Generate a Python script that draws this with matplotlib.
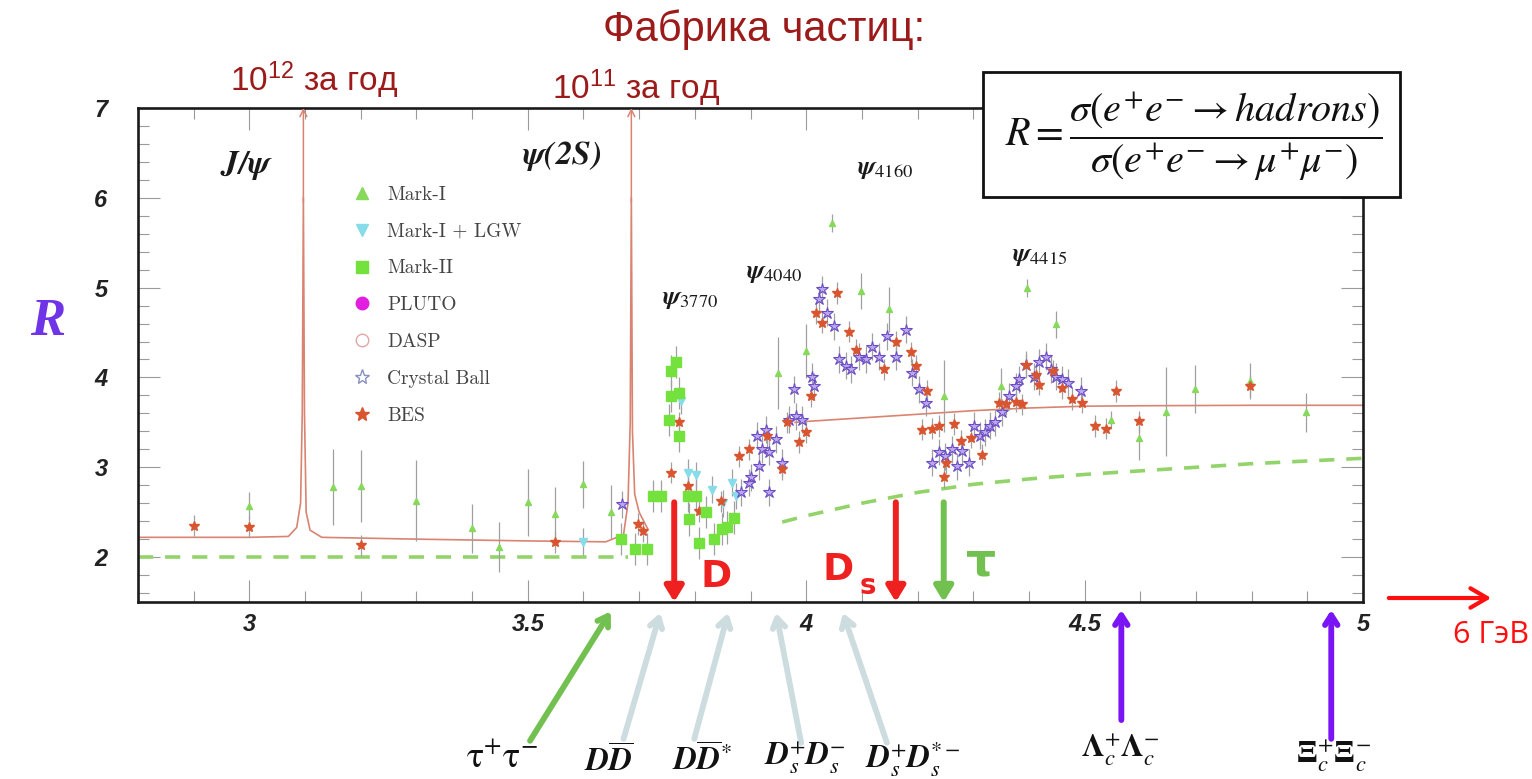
import matplotlib.pyplot as plt
from matplotlib.lines import Line2D
from matplotlib.patches import Rectangle, FancyArrowPatch
from matplotlib.ticker import MultipleLocator

plt.rcParams['mathtext.fontset'] = 'stix'

W, H = 1532, 779


def fig_xy(x, y):
    # pixel position -> figure fraction
    return x / W, 1 - y / H


# --- measurements: sqrt(s) in GeV, R, error ---
mark1_x = [3.0, 3.15, 3.20, 3.30, 3.40, 3.448, 3.50, 3.548, 3.599, 3.650, 3.95, 4.0,
           4.047, 4.099, 4.149, 4.247, 4.349, 4.396, 4.448, 4.547, 4.597, 4.647, 4.698,
           4.797, 4.898]
mark1_r = [2.57, 2.78, 2.79, 2.63, 2.32, 2.11, 2.61, 2.48, 2.81, 2.50, 4.05, 4.29,
           5.72, 4.96, 4.76, 3.79, 3.90, 5.0, 4.59, 3.53, 3.33, 3.62, 3.87, 3.96, 3.61]
mark1_e = [0.15, 0.42, 0.40, 0.45, 0.27, 0.28, 0.37, 0.30, 0.26, 0.30, 0.40, 0.30,
           0.10, 0.20, 0.25, 0.40, 0.20, 0.10, 0.15, 0.10, 0.25, 0.50, 0.27, 0.20, 0.22]

lgw_x = [3.60, 3.776, 3.787, 3.803, 3.83, 3.85, 3.867, 3.874]
lgw_r = [2.17, 3.74, 2.94, 2.91, 2.75, 2.60, 2.83, 2.68]

mark2_x = [3.668, 3.692, 3.715, 3.724, 3.740, 3.754, 3.758, 3.758, 3.767, 3.772, 3.772,
           3.787, 3.803, 3.790, 3.808, 3.820, 3.835, 3.849, 3.858, 3.871]
mark2_r = [2.20, 2.09, 2.09, 2.68, 2.68, 3.53, 4.07, 3.79, 4.17, 3.83, 3.35,
           2.68, 2.68, 2.42, 2.16, 2.50, 2.20, 2.31, 2.33, 2.44]

cb_x = [3.670, 3.883, 3.898, 3.901, 3.912, 3.916, 3.921, 3.928, 3.934, 3.934, 3.946,
        3.957, 3.970, 3.978, 3.982, 3.993, 4.011, 4.014, 4.023, 4.029, 4.038, 4.050,
        4.059, 4.072, 4.081, 4.095, 4.107, 4.118, 4.131, 4.145, 4.161, 4.179, 4.190,
        4.203, 4.215, 4.226, 4.238, 4.250, 4.262, 4.271, 4.280, 4.292, 4.301, 4.313,
        4.322, 4.331, 4.340, 4.351, 4.364, 4.376, 4.382, 4.394, 4.409, 4.418, 4.430,
        4.439, 4.448, 4.459, 4.471, 4.493]
cb_r = [2.59, 2.72, 2.83, 2.89, 3.35, 3.01, 3.20, 3.42, 3.17, 2.72, 3.31,
        3.05, 3.53, 3.87, 3.57, 3.53, 4.01, 3.90, 4.87, 4.98, 4.72, 4.57,
        4.20, 4.13, 4.09, 4.23, 4.20, 4.34, 4.23, 4.46, 4.23, 4.53, 4.05,
        3.87, 3.72, 3.05, 3.17, 3.12, 3.20, 3.01, 3.18, 3.05, 3.46, 3.35,
        3.39, 3.46, 3.50, 3.61, 3.79, 3.90, 3.98, 4.14, 4.01, 4.17, 4.23,
        4.09, 4.01, 3.98, 3.94, 3.85]

bes_x = [2.90, 3.0, 3.2, 3.548, 3.698, 3.707, 3.758, 3.772, 3.787, 3.808, 3.847, 3.880,
         3.898, 3.930, 3.957, 3.966, 3.987, 4.0, 4.009, 4.018, 4.029, 4.056, 4.077,
         4.090, 4.140, 4.161, 4.188, 4.197, 4.208, 4.217, 4.226, 4.238, 4.247, 4.251,
         4.265, 4.278, 4.296, 4.315, 4.346, 4.358, 4.376, 4.387, 4.394, 4.412, 4.418,
         4.444, 4.459, 4.477, 4.495, 4.518, 4.538, 4.557, 4.597, 4.797]
bes_r = [2.35, 2.34, 2.13, 2.17, 2.37, 2.29, 2.94, 3.50, 2.79, 2.51, 2.62, 3.12,
         3.20, 3.35, 2.98, 3.50, 3.28, 3.39, 3.79, 4.72, 4.61, 4.94, 4.51,
         4.31, 4.09, 4.40, 4.28, 4.13, 3.42, 3.85, 3.43, 3.46, 2.89, 3.05,
         3.48, 3.29, 3.33, 3.14, 3.72, 3.70, 3.73, 3.70, 4.14, 4.03, 3.92,
         4.07, 3.88, 3.76, 3.72, 3.46, 3.43, 3.85, 3.51, 3.91]

# --- theory curves ---
fit_x1 = [2.80, 3.00, 3.07, 3.085, 3.092, 3.095, 3.097, 3.099, 3.102, 3.109, 3.13, 3.30,
          3.50, 3.64, 3.672, 3.680, 3.684, 3.686, 3.688, 3.692, 3.70, 3.715]
fit_r1 = [2.22, 2.22, 2.23, 2.33, 2.60, 3.60, 6.00, 3.60, 2.50, 2.30, 2.22, 2.20,
          2.18, 2.17, 2.25, 2.60, 3.50, 6.00, 3.40, 2.70, 2.50, 2.32]
fit_x2 = [3.98, 4.0, 4.1, 4.2, 4.3, 4.4, 4.5, 4.6, 4.8, 5.0]
fit_r2 = [3.50, 3.51, 3.55, 3.59, 3.63, 3.66, 3.68, 3.685, 3.69, 3.69]
peak_x = [3.097, 3.686]

qpm_x1 = [2.80, 3.68]
qpm_r1 = [2.0, 2.0]
qpm_x2 = [3.957, 4.0, 4.1, 4.2, 4.3, 4.4, 4.5, 4.6, 4.7, 4.8, 4.9, 5.0]
qpm_r2 = [2.39, 2.46, 2.60, 2.72, 2.81, 2.87, 2.92, 2.96, 3.00, 3.04, 3.07, 3.10]

# --- thresholds ---
thr_labels = [r'$\mathrm{\tau^{+}\tau^{-}}$', r'$\mathbfit{D}\overline{\mathbfit{D}}$',
              r'$\mathbfit{D}\overline{\mathbfit{D}}^{*}$',
              r'$\mathbfit{D}_{s}^{+}\mathbfit{D}_{s}^{-}$',
              r'$\mathbfit{D}_{s}^{+}\mathbfit{D}_{s}^{*-}$',
              r'$\mathbf{\Lambda}_{c}^{+}\mathbf{\Lambda}_{c}^{-}$',
              r'$\mathbf{\Xi}_{c}^{+}\mathbf{\Xi}_{c}^{-}$']
thr_tip = [3.649, 3.738, 3.860, 3.946, 4.066, 4.566, 4.943]
thr_tail = [3.504, 3.672, 3.799, 3.991, 4.145, 4.566, 4.943]

red = '#ef2020'
green = '#72c04f'
pale = '#cddcdf'
violet = '#7a14f5'
darkred = '#9c1a1a'
curve_red = '#d98472'
err_col = '#a0a0a0'

fig = plt.figure(figsize=(15.32, 7.79), dpi=100)
ax = fig.add_axes([138 / W, 1 - 602 / H, (1363 - 138) / W, (602 - 108) / H])
ax.set_xlim(2.8, 5.0)
ax.set_ylim(1.5, 7.0)

# theory lines
ax.plot(qpm_x1, qpm_r1, color='#93d46a', lw=2.6, dashes=(4.2, 3.3))
ax.plot(qpm_x2, qpm_r2, color='#93d46a', lw=2.6, dashes=(4.2, 3.3))
ax.plot(fit_x1, fit_r1, color=curve_red, lw=1.2)
ax.plot(fit_x2, fit_r2, color=curve_red, lw=1.2)
for xp in peak_x:
    ax.annotate('', xy=(xp, 7.0), xytext=(xp, 5.95), annotation_clip=False,
                arrowprops=dict(arrowstyle='->,head_length=0.5,head_width=0.25',
                                color=curve_red, lw=1.1, shrinkA=0, shrinkB=0))

# data sets
ebar = dict(ecolor=err_col, elinewidth=0.9, capsize=0, ls='none')
ax.errorbar(mark1_x, mark1_r, yerr=mark1_e, fmt='^', ms=4, color='#86d95a', **ebar)
ax.errorbar(lgw_x, lgw_r, yerr=0.15, fmt='v', ms=6, color='#86dce8', **ebar)
ax.errorbar(cb_x, cb_r, yerr=0.15, fmt='*', ms=9, mfc='#bca8ee', mec='#6a4cc4',
            mew=0.8, **ebar)
ax.errorbar(bes_x, bes_r, yerr=0.12, fmt='*', ms=7, color='#d8552f', **ebar)
ax.errorbar(mark2_x, mark2_r, yerr=0.18, fmt='s', ms=7, color='#74e23c', **ebar)

# axes style
for sp in ax.spines.values():
    sp.set_linewidth(1.9)
    sp.set_color('#1a1a1a')
ax.xaxis.set_major_locator(MultipleLocator(0.5))
ax.xaxis.set_minor_locator(MultipleLocator(0.1))
ax.yaxis.set_major_locator(MultipleLocator(1))
ax.yaxis.set_minor_locator(MultipleLocator(0.2))
ax.tick_params(which='both', direction='in', top=True, right=True, color='#9a9a9a',
               width=0.8)
ax.tick_params(which='major', length=16)
ax.tick_params(which='minor', length=8)
ax.tick_params(axis='y', pad=22)
ax.tick_params(axis='x', pad=8)
ax.set_xticks([3, 3.5, 4, 4.5, 5], ['3', '3.5', '4', '4.5', '5'])
for lab in ax.get_xticklabels() + ax.get_yticklabels():
    lab.set_fontsize(17)
    lab.set_fontweight('bold')
    lab.set_fontstyle('italic')
    lab.set_family('Liberation Sans')
    lab.set_color('#222222')

# legend
leg_handles = [
    Line2D([], [], ls='none', marker='^', ms=9, color='#86d95a'),
    Line2D([], [], ls='none', marker='v', ms=9, color='#86dce8'),
    Line2D([], [], ls='none', marker='s', ms=9, color='#74e23c'),
    Line2D([], [], ls='none', marker='o', ms=9, color='#e21ee0'),
    Line2D([], [], ls='none', marker='o', ms=9, mfc='none', mec='#e0a6a6'),
    Line2D([], [], ls='none', marker='*', ms=11, mfc='none', mec='#8a90c0'),
    Line2D([], [], ls='none', marker='*', ms=10, color='#d8552f'),
]
leg_names = ['Mark-I', 'Mark-I + LGW', 'Mark-II', 'PLUTO', 'DASP', 'Crystal Ball', 'BES']
leg = ax.legend(leg_handles, leg_names, loc='upper left',
                bbox_to_anchor=((352 - 138) / 1225, (602 - 186) / 494), frameon=False,
                prop={'family': 'cmr10', 'size': 14}, labelspacing=0.97,
                handlelength=1.0, handletextpad=0.8, borderpad=0, borderaxespad=0)
for t in leg.get_texts():
    t.set_color('#444444')

# resonance names
psi_kw = dict(fontsize=24, color='#1a1a1a', va='center')
fig.text(*fig_xy(220, 165), r'$\mathbfit{J/\psi}$', **psi_kw)
fig.text(*fig_xy(522, 156), r'$\mathbfit{\psi(2S)}$', **psi_kw)
sub_kw = dict(fontsize=19, color='#1a1a1a', va='center')
fig.text(*fig_xy(662, 298), r'$\mathbfit{\psi}_{\mathrm{3770}}$', **sub_kw)
fig.text(*fig_xy(746, 272), r'$\mathbfit{\psi}_{\mathrm{4040}}$', **sub_kw)
fig.text(*fig_xy(857, 168), r'$\mathbfit{\psi}_{\mathrm{4160}}$', **sub_kw)
fig.text(*fig_xy(1012, 255), r'$\mathbfit{\psi}_{\mathrm{4415}}$', **sub_kw)

# R definition box
fig.add_artist(Rectangle(fig_xy(983, 197), 417 / W, 125 / H, transform=fig.transFigure,
                         facecolor='white', edgecolor='#111111', lw=2.0, zorder=5))
fig.text(*fig_xy(1194, 136),
         r'$R=\dfrac{\sigma(e^{+}e^{-}\rightarrow hadrons)}{\sigma(e^{+}e^{-}\rightarrow \mu^{+}\mu^{-})}$',
         fontsize=29, ha='center', va='center', color='#111111', zorder=6)

# titles
fig.text(*fig_xy(764, 30), 'Фабрика частиц:', fontsize=30, color=darkred,
         ha='center', va='center', family='Liberation Sans')
fig.text(*fig_xy(314, 80), r'$\mathregular{10^{12}}$ за год', fontsize=24, color=darkred,
         ha='center', va='center', family='Liberation Sans')
fig.text(*fig_xy(636, 88), r'$\mathregular{10^{11}}$ за год', fontsize=24, color=darkred,
         ha='center', va='center', family='Liberation Sans')

# big R
fig.text(*fig_xy(48, 322), 'R', fontsize=38, color='#7034e8', fontweight='bold',
         fontstyle='italic', family='Liberation Serif', ha='center', va='center')

# open-charm and tau thresholds inside the frame
down_kw = dict(arrowstyle='-|>,head_length=0.9,head_width=0.55', lw=4.3,
               shrinkA=0, shrinkB=0)
ax.annotate('', xy=(3.763, 1.5), xytext=(3.763, 2.61),
            arrowprops=dict(color=red, **down_kw))
ax.annotate('', xy=(4.161, 1.5), xytext=(4.161, 2.61),
            arrowprops=dict(color=red, **down_kw))
ax.annotate('', xy=(4.247, 1.5), xytext=(4.247, 2.61),
            arrowprops=dict(color=green, **down_kw))
fig.text(*fig_xy(716, 577), 'D', fontsize=27, color=red, fontweight='bold',
         ha='center', va='center')
fig.text(*fig_xy(838, 570), 'D', fontsize=27, color=red, fontweight='bold',
         ha='center', va='center')
fig.text(*fig_xy(868, 586), 's', fontsize=20, color=red, fontweight='bold',
         ha='center', va='center')
fig.text(*fig_xy(981, 563), 'τ', fontsize=34, color=green, fontweight='bold',
         ha='center', va='center')

# production thresholds below the axis
up_kw = dict(arrowstyle='->,head_length=0.7,head_width=0.45', lw=4.2,
             shrinkA=0, shrinkB=0)
thr_colors = [green, pale, pale, pale, pale, violet, violet]
tip_y = [-0.019, -0.022, -0.022, -0.022, -0.022, -0.016, -0.016]
tail_y = [-0.281, -0.277, -0.277, -0.285, -0.285, -0.239, -0.277]
for xt, xb, yt, yb, c in zip(thr_tip, thr_tail, tip_y, tail_y, thr_colors):
    ax.annotate('', xy=(xt, yt), xycoords=('data', 'axes fraction'),
                xytext=(xb, yb), textcoords=('data', 'axes fraction'),
                annotation_clip=False, arrowprops=dict(color=c, **up_kw))

lab_pos = [(502, 758), (609, 762), (702, 761), (805, 758), (913, 759), (1120, 750),
           (1334, 756)]
lab_size = [26, 23, 23, 23, 23, 23, 23]
for text, (px, py), fs in zip(thr_labels, lab_pos, lab_size):
    fig.text(*fig_xy(px, py), text, fontsize=fs, ha='center', va='center',
             color='#111111')

# energy continues to 6 GeV
fig.add_artist(FancyArrowPatch(
    fig_xy(1386, 598), fig_xy(1494, 598), transform=fig.transFigure,
    arrowstyle='->,head_length=12,head_width=7', color='#ff1010', lw=3))
fig.text(*fig_xy(1491, 635), '6 ГэВ', fontsize=22, color='#ff1010',
         ha='center', va='center', family='Open Sans')

fig.savefig('out.png', dpi=100)
